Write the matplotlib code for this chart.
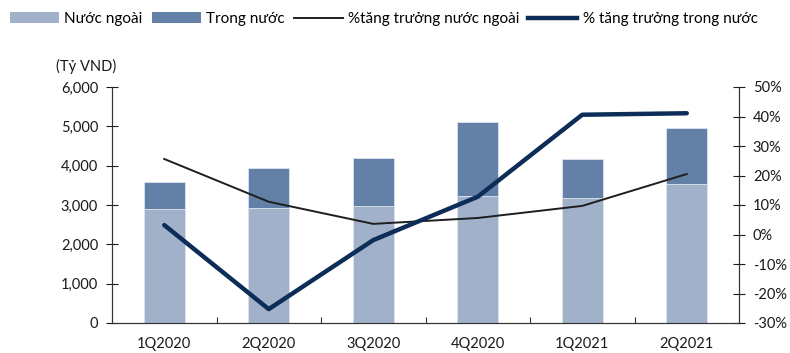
"""
Foreign vs domestic revenue with YoY growth lines.
"""

import matplotlib
matplotlib.use("Agg")
import matplotlib.pyplot as plt
import matplotlib.ticker as mticker
from matplotlib.patches import Patch
from matplotlib.lines import Line2D
import numpy as np

plt.rcParams["font.family"] = ["Lato", "DejaVu Sans"]

# ── Data ────────────────────────────────────────────────────────────────────

quarters = ["1Q2020", "2Q2020", "3Q2020", "4Q2020", "1Q2021", "2Q2021"]
foreign = [2900, 2930, 2975, 3220, 3180, 3525]
domestic_total = [3590, 3930, 4185, 5100, 4160, 4950]
domestic = [t - f for t, f in zip(domestic_total, foreign)]
growth_foreign = [25.6, 11.1, 3.6, 5.6, 9.7, 20.5]
growth_domestic = [3.2, -25.3, -1.9, 12.8, 40.6, 41.1]

C_FOREIGN = "#A2B1CA"
C_DOMESTIC = "#6381A6"
C_THIN = "#1E1E1E"
C_THICK = "#0C2D57"
TXT = "#1A1A1A"

# ── Plot ────────────────────────────────────────────────────────────────────

fig = plt.figure(figsize=(7.9, 3.53), dpi=100)
ax = fig.add_axes([112 / 790, 30 / 353, 627 / 790, 236 / 353])
ax2 = ax.twinx()

x = np.arange(len(quarters))
w = 0.39
ax.bar(x, foreign, w, color=C_FOREIGN, edgecolor="#DCE3EE", linewidth=0.6, zorder=2)
ax.bar(x, domestic, w, bottom=foreign, color=C_DOMESTIC, edgecolor="#DCE3EE",
       linewidth=0.6, zorder=2)

ax2.plot(x, growth_foreign, color=C_THIN, lw=1.4, zorder=3)
ax2.plot(x, growth_domestic, color=C_THICK, lw=3.2, solid_capstyle="round", zorder=4)

ax.set_xlim(-0.5, len(quarters) - 0.5)
ax.set_ylim(0, 6000)
ax2.set_ylim(-30, 50)
ax.set_yticks(range(0, 6001, 1000))
ax2.set_yticks(range(-30, 51, 10))
ax.yaxis.set_major_formatter(mticker.FuncFormatter(lambda v, _: f"{v:,.0f}"))
ax2.yaxis.set_major_formatter(mticker.FuncFormatter(lambda v, _: f"{v:.0f}%"))

ax.set_xticks(x)
ax.set_xticklabels(quarters)
ax.set_xticks(np.arange(0.5, len(quarters) - 1, 1), minor=True)
ax.tick_params(axis="x", which="major", length=0, pad=10, labelsize=10.5, colors=TXT)
ax.tick_params(axis="x", which="minor", direction="in", length=4, width=0.8, color="#333333")
ax.tick_params(axis="y", direction="inout", length=8, width=0.8, labelsize=10.5,
               colors=TXT, pad=6)
ax2.tick_params(axis="y", direction="inout", length=8, width=0.8, labelsize=10.5,
                colors=TXT, pad=6)

for a in (ax, ax2):
    a.spines["top"].set_visible(False)
    for s in ("left", "right", "bottom"):
        a.spines[s].set_color("#333333")
        a.spines[s].set_linewidth(0.8)

fig.text(86 / 790, 1 - 66 / 353, "(Tỷ VND)", ha="center", va="center",
         fontsize=10.5, color=TXT)

handles = [
    Patch(facecolor=C_FOREIGN, edgecolor="none"),
    Patch(facecolor=C_DOMESTIC, edgecolor="none"),
    Line2D([0], [0], color=C_THIN, lw=1.4),
    Line2D([0], [0], color=C_THICK, lw=3.2),
]
labels = ["Nước ngoài", "Trong nước", "%tăng trưởng nước ngoài", "% tăng trưởng trong nước"]
fig.legend(handles, labels, loc="center left", bbox_to_anchor=(10 / 790, 1 - 19 / 353),
           ncol=4, frameon=False, fontsize=11, handlelength=3.2, handleheight=0.75,
           handletextpad=0.35, columnspacing=0.6, borderaxespad=0, borderpad=0)

fig.savefig("out.png", dpi=100)
